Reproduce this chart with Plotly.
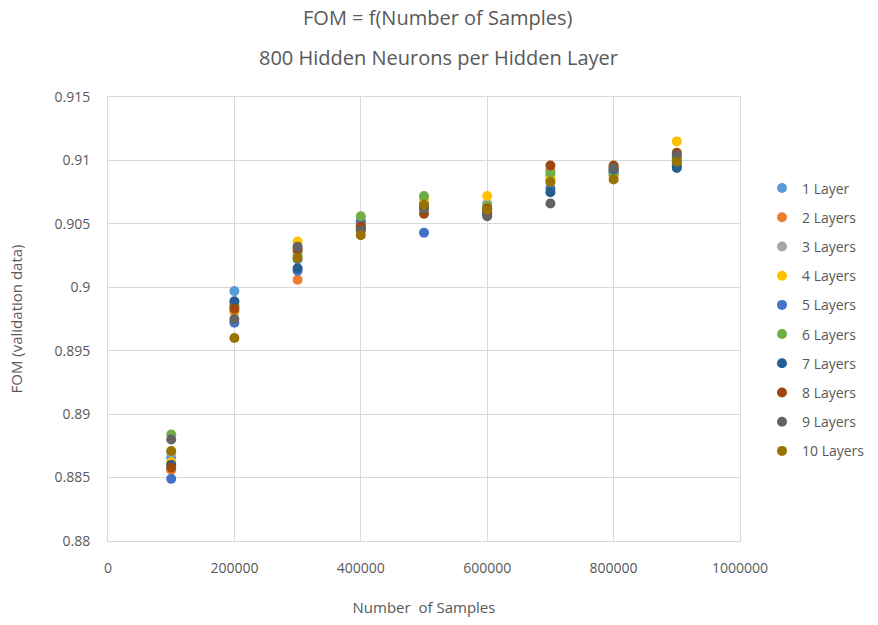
import plotly.graph_objects as go

samples = [100000, 200000, 300000, 400000, 500000, 600000, 700000, 800000, 900000]

series_names = ["1 Layer", "2 Layers", "3 Layers", "4 Layers", "5 Layers",
                "6 Layers", "7 Layers", "8 Layers", "9 Layers", "10 Layers"]

layer1 = [0.8866, 0.8997, 0.9022, 0.9050, 0.9064, 0.9062, 0.9085, 0.9090, 0.9098]
layer2 = [0.8856, 0.8981, 0.9006, 0.9046, 0.9062, 0.9060, 0.9092, 0.9095, 0.9100]
layer3 = [0.8870, 0.8985, 0.9025, 0.9048, 0.9066, 0.9066, 0.9088, 0.9092, 0.9101]
layer4 = [0.8862, 0.8982, 0.9036, 0.9052, 0.9070, 0.9072, 0.9086, 0.9088, 0.9115]
layer5 = [0.8849, 0.8972, 0.9013, 0.9052, 0.9043, 0.9058, 0.9078, 0.9091, 0.9096]
layer6 = [0.8884, 0.8986, 0.9028, 0.9056, 0.9072, 0.9064, 0.9090, 0.9089, 0.9102]
layer7 = [0.8860, 0.8989, 0.9015, 0.9046, 0.9063, 0.9058, 0.9075, 0.9093, 0.9094]
layer8 = [0.8858, 0.8983, 0.9030, 0.9048, 0.9058, 0.9062, 0.9096, 0.9096, 0.9106]
layer9 = [0.8880, 0.8975, 0.9032, 0.9045, 0.9062, 0.9056, 0.9066, 0.9094, 0.9104]
layer10 = [0.8871, 0.8960, 0.9023, 0.9041, 0.9065, 0.9061, 0.9083, 0.9085, 0.9099]

all_series = [layer1, layer2, layer3, layer4, layer5, layer6, layer7, layer8, layer9, layer10]
colors = ["#5B9BD5", "#ED7D31", "#A5A5A5", "#FFC000", "#4472C4",
          "#70AD47", "#255E91", "#9E480E", "#636363", "#997300"]

font_family = "Open Sans, Liberation Sans, sans-serif"
text_color = "#595959"

fig = go.Figure()
for i, (name, vals) in enumerate(zip(series_names, all_series)):
    fig.add_trace(go.Scatter(
        x=samples, y=vals, mode="markers", name=name,
        legendgroup=f"g{i}",
        marker=dict(size=10, color=colors[i]),
    ))

plot_h = 625 - 97 - 84
plot_w = 878 - 108 - 138

fig.update_layout(
    width=878, height=625,
    margin=dict(l=108, r=138, t=97, b=84, autoexpand=False),
    paper_bgcolor="white", plot_bgcolor="white",
    font=dict(family=font_family, color=text_color, size=14),
    showlegend=True,
    legend=dict(x=(762 - 108) / plot_w, y=0.83, xanchor="left", yanchor="top",
                traceorder="grouped", tracegroupgap=8,
                font=dict(size=14, color=text_color),
                itemwidth=30),
    annotations=[
        dict(text="FOM = f(Number of Samples)", x=(438 - 108) / plot_w,
             y=(625 - 84 - 18) / plot_h, xref="paper", yref="paper", yanchor="middle",
             showarrow=False, font=dict(size=20, color=text_color)),
        dict(text="800 Hidden Neurons per Hidden Layer", x=(438 - 108) / plot_w,
             y=(625 - 84 - 57) / plot_h, xref="paper", yref="paper", yanchor="middle",
             showarrow=False, font=dict(size=20, color=text_color)),
    ],
)

fig.update_xaxes(
    range=[0, 1000000], dtick=200000, tick0=0, tickformat="d",
    showgrid=True, gridcolor="#D9D9D9", gridwidth=1,
    zeroline=False, showline=True, linecolor="#D9D9D9", linewidth=1, mirror=True,
    ticks="outside", ticklen=14, tickcolor="rgba(0,0,0,0)",
    tickfont=dict(size=14, color=text_color),
    title=dict(text="Number  of Samples", font=dict(size=15, color=text_color), standoff=26),
)
fig.update_yaxes(
    range=[0.88, 0.915], dtick=0.005, tick0=0.88,
    showgrid=True, gridcolor="#D9D9D9", gridwidth=1,
    zeroline=False, showline=True, linecolor="#D9D9D9", linewidth=1, mirror=True,
    ticks="outside", ticklen=14, tickcolor="rgba(0,0,0,0)",
    tickfont=dict(size=14, color=text_color),
    title=dict(text="FOM (validation data)", font=dict(size=15, color=text_color), standoff=28),
)

fig.write_html("out.html")
